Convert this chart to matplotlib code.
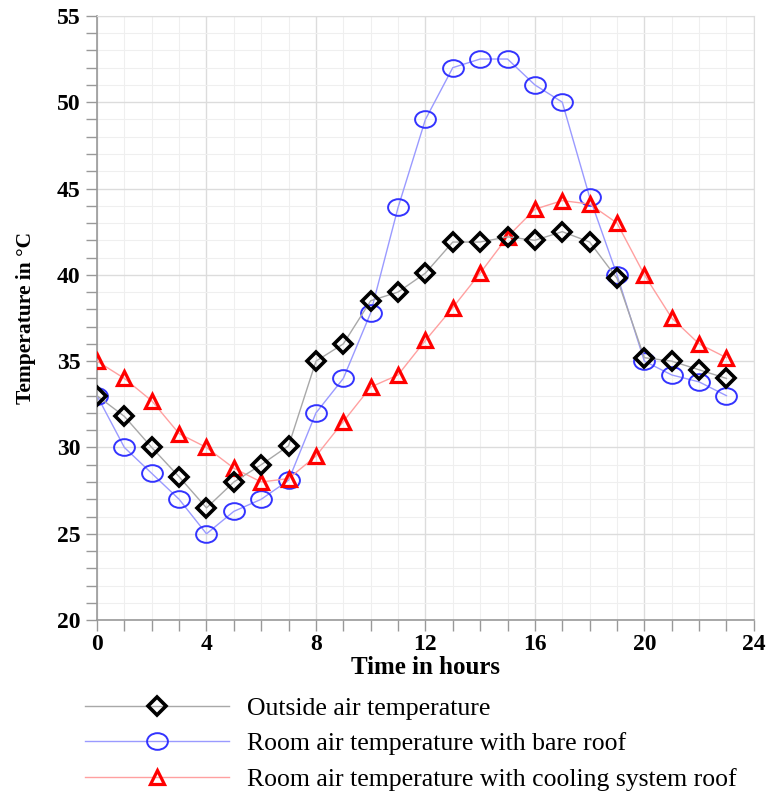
import numpy as np
import matplotlib
matplotlib.use('Agg')
import matplotlib.pyplot as plt
from matplotlib.path import Path
from matplotlib.ticker import MultipleLocator

hours = list(range(24))
outside = [33.0, 31.8, 30.0, 28.3, 26.5, 28.0, 29.0, 30.1, 35.0, 36.0, 38.5, 39.0,
           40.1, 41.9, 41.9, 42.2, 42.0, 42.5, 41.9, 39.8, 35.2, 35.0, 34.5, 34.0]
bare_roof = [33.0, 30.0, 28.5, 27.0, 25.0, 26.3, 27.0, 28.1, 32.0, 34.0, 37.8, 43.9,
             49.0, 52.0, 52.5, 52.5, 51.0, 50.0, 44.5, 40.0, 35.0, 34.2, 33.8, 33.0]
cooling_roof = [35.0, 34.0, 32.7, 30.8, 30.0, 28.8, 28.0, 28.2, 29.5, 31.5, 33.5, 34.2,
                36.2, 38.1, 40.1, 42.2, 43.8, 44.3, 44.1, 43.0, 40.0, 37.5, 36.0, 35.2]
labels = ['Outside air temperature',
          'Room air temperature with bare roof',
          'Room air temperature with cooling system roof']

plt.rcParams['font.family'] = ['Liberation Serif', 'DejaVu Serif']

# slightly wide circle, like the stretched original
circ = Path.unit_circle()
ellipse = Path(circ.vertices * np.array([1.25, 1.0]), circ.codes)

fig = plt.figure(figsize=(7.7, 7.93), dpi=100)
ax = fig.add_axes([0.126, 0.218, 0.853, 0.762])

ax.plot(hours, outside, color='#a8a8a8', linewidth=1, marker='D', markersize=9,
        markerfacecolor='none', markeredgecolor='black', markeredgewidth=2.6,
        label=labels[0], zorder=4)
ax.plot(hours, bare_roof, color='#9a9aff', linewidth=1, marker=ellipse, markersize=15,
        markerfacecolor='none', markeredgecolor='#3333ff', markeredgewidth=1.4,
        label=labels[1], zorder=3)
ax.plot(hours, cooling_roof, color='#ffa0a0', linewidth=1, marker='^', markersize=10,
        markerfacecolor='none', markeredgecolor='red', markeredgewidth=2.3,
        label=labels[2], zorder=3)

ax.set_xlim(0, 24)
ax.set_ylim(20, 55)
ax.xaxis.set_major_locator(MultipleLocator(4))
ax.xaxis.set_minor_locator(MultipleLocator(1))
ax.yaxis.set_major_locator(MultipleLocator(5))
ax.yaxis.set_minor_locator(MultipleLocator(1))

ax.grid(which='major', color='#dcdcdc', linewidth=1)
ax.grid(which='minor', color='#efefef', linewidth=0.8)
ax.set_axisbelow(True)

for s in ['left', 'bottom']:
    ax.spines[s].set_color('#999999')
    ax.spines[s].set_linewidth(1.2)
for s in ['top', 'right']:
    ax.spines[s].set_color('#dddddd')

ax.tick_params(which='both', direction='out', color='#999999', length=8, width=1)
ax.tick_params(which='major', labelsize=17)
ax.tick_params(axis='x', which='major', pad=2)
ax.tick_params(axis='y', which='major', pad=4)
for t in ax.get_xticklabels() + ax.get_yticklabels():
    t.set_fontweight('bold')

ax.set_xlabel('Time in hours', fontsize=18, fontweight='bold', labelpad=1)
ax.set_ylabel('Temperature in \u00b0C', fontsize=15.5, fontweight='bold', labelpad=15)

leg = fig.legend(loc='upper left', bbox_to_anchor=(0.110, 0.121), frameon=False,
                 fontsize=18.5, handlelength=5.6, handletextpad=0.7, labelspacing=0.48,
                 borderaxespad=0, borderpad=0)

fig.savefig('out.png', dpi=100)
